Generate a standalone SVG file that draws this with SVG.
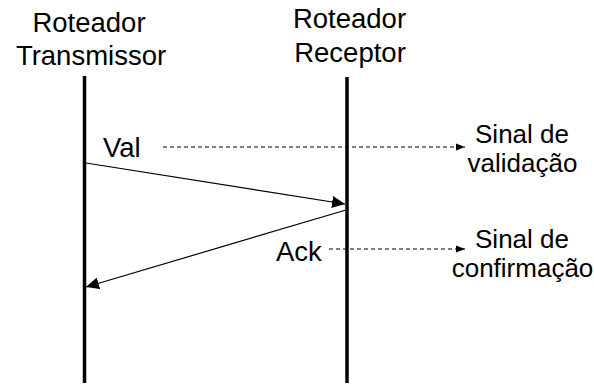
<svg xmlns="http://www.w3.org/2000/svg" width="594" height="385" viewBox="0 0 594 385">
<defs>
<marker id="big" markerUnits="userSpaceOnUse" markerWidth="14" markerHeight="12" refX="13" refY="6" orient="auto"><path d="M0,0 L13,6 L0,12 Z" fill="#000"/></marker>
<marker id="small" markerUnits="userSpaceOnUse" markerWidth="10" markerHeight="8" refX="9" refY="4" orient="auto"><path d="M0,0.5 L9,4 L0,7.5 Z" fill="#000"/></marker>
</defs>
<style>
text{font-family:"Liberation Sans",Arial,sans-serif;fill:#000}
.t{font-size:27.5px}
.s{font-size:26px}
.life{stroke:#000;stroke-width:3.5}
.msg{stroke:#000;stroke-width:1.2;fill:none}
.dash{stroke:#000;stroke-width:1.2;stroke-dasharray:4 3;fill:none}
</style>
<rect width="594" height="385" fill="#fff"/>
<g id="transmissor">
<text class="t" x="89" y="32" text-anchor="middle">Roteador</text>
<text class="t" x="91" y="65" text-anchor="middle">Transmissor</text>
<line class="life" x1="84.5" y1="76" x2="84.5" y2="383"/>
</g>
<g id="receptor">
<text class="t" x="349.5" y="28" text-anchor="middle">Roteador</text>
<text class="t" x="350" y="62" text-anchor="middle">Receptor</text>
<line class="life" x1="347" y1="77" x2="347" y2="383"/>
</g>
<g id="val-label"><text class="t" x="103" y="157">Val</text></g>
<g id="ack-label"><text class="t" x="276" y="261">Ack</text></g>
<g id="sinal-validacao">
<text class="s" x="522" y="143" text-anchor="middle">Sinal de</text>
<text class="s" x="522.5" y="172" text-anchor="middle">validação</text>
</g>
<g id="sinal-confirmacao">
<text class="s" x="522" y="248" text-anchor="middle">Sinal de</text>
<text class="s" x="522.5" y="277" text-anchor="middle">confirmação</text>
</g>
<g id="connectors">
<line class="msg" x1="86" y1="163" x2="345" y2="204" marker-end="url(#big)"/>
<line class="msg" x1="346" y1="210" x2="86" y2="287" marker-end="url(#big)"/>
<line class="dash" x1="163" y1="147" x2="465" y2="147" marker-end="url(#small)"/>
<line class="dash" x1="329" y1="249" x2="465" y2="249" marker-end="url(#small)"/>
</g>
</svg>
